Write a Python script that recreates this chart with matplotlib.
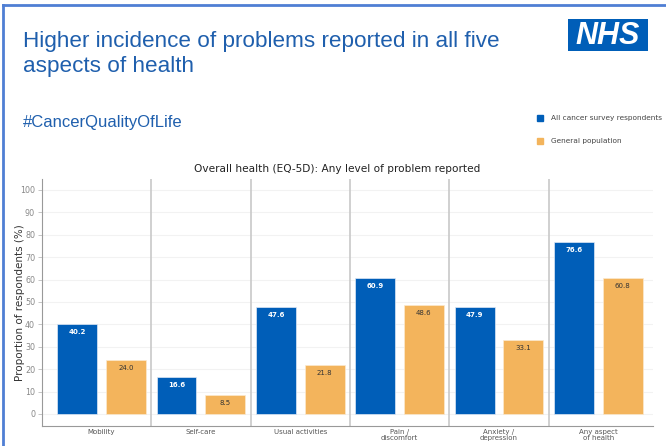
import matplotlib.pyplot as plt
import numpy as np

# data
categories = ["Mobility", "Self-care", "Usual activities", "Pain /\ndiscomfort",
              "Anxiety /\ndepression", "Any aspect\nof health"]
cancer = [40.2, 16.6, 47.6, 60.9, 47.9, 76.6]
general = [24.0, 8.5, 21.8, 48.6, 33.1, 60.8]
series_names = ["All cancer survey respondents", "General population"]

blue = "#005eb8"
orange = "#f3b45c"
title_blue = "#1f5fad"
grey = "#888888"

fig = plt.figure(figsize=(6.66, 4.46), dpi=100)

# slide frame (blue line top and left)
fig.add_artist(plt.Line2D([0.004, 1.0], [0.989, 0.989], color="#4f7fd4", lw=2))
fig.add_artist(plt.Line2D([0.004, 0.004], [0.0, 0.989], color="#4f7fd4", lw=2))

fig.text(0.034, 1 - 31 / 446, "Higher incidence of problems reported in all five\naspects of health",
         family="Liberation Sans", fontsize=16.2, color=title_blue, va="top", linespacing=1.22)
fig.text(0.034, 1 - 122 / 446, "#CancerQualityOfLife", family="Liberation Sans", fontsize=12,
         color=title_blue, va="center")

# NHS logo
logo = fig.add_axes([568 / 666, 1 - 51 / 446, 80 / 666, 32 / 446])
logo.set_facecolor(blue)
logo.set_xticks([])
logo.set_yticks([])
for s in logo.spines.values():
    s.set_visible(False)
logo.text(0.5, 0.47, "NHS", color="white", fontsize=22, fontweight="bold", style="italic",
          family="Liberation Sans", ha="center", va="center", transform=logo.transAxes)

# legend
fig.patches.append(plt.Rectangle((537 / 666, 1 - 121 / 446), 6 / 666, 6 / 446,
                                 color=blue, transform=fig.transFigure))
fig.patches.append(plt.Rectangle((537 / 666, 1 - 144 / 446), 6 / 666, 6 / 446,
                                 color=orange, transform=fig.transFigure))
fig.text(551 / 666, 1 - 118 / 446, series_names[0], fontsize=5.3, color="#444444", va="center")
fig.text(551 / 666, 1 - 141 / 446, series_names[1], fontsize=5.3, color="#444444", va="center")

ax = fig.add_axes([42 / 666, 1 - 426 / 446, 611 / 666, 247 / 446])
x = np.arange(len(categories))
w = 0.4
b1 = ax.bar(x - 0.245, cancer, w, color=blue, edgecolor="#dfe8f5", lw=0.5, zorder=3)
b2 = ax.bar(x + 0.245, general, w, color=orange, edgecolor="#fbe9cf", lw=0.5, zorder=3)

for rect, v in zip(b1, cancer):
    ax.text(rect.get_x() + rect.get_width() / 2, v - 3.6, f"{v:.1f}", ha="center",
            va="center", fontsize=5, color="white", fontweight="bold", zorder=4)
for rect, v in zip(b2, general):
    ax.text(rect.get_x() + rect.get_width() / 2, v - 3.6, f"{v:.1f}", ha="center",
            va="center", fontsize=5, color="#333333", zorder=4)

for sep in x[:-1] + 0.5:
    ax.axvline(sep, color="#c8c8c8", lw=1.2, zorder=2)

ax.set_xlim(-0.6, 5.55)
ax.set_ylim(-5.4, 104.9)
ax.set_yticks(range(0, 101, 10))
ax.set_xticks(x)
ax.set_xticklabels(categories, fontsize=5, color="#555555", linespacing=1.0)
ax.tick_params(axis="x", length=0, pad=2)
ax.tick_params(axis="y", labelsize=5.8, colors=grey, length=3, width=0.6, color="#bbbbbb", pad=2)
ax.grid(axis="y", color="#f2f2f2", lw=0.8, zorder=0)
for s in ["top", "right"]:
    ax.spines[s].set_visible(False)
for s in ["left", "bottom"]:
    ax.spines[s].set_color("#999999")
    ax.spines[s].set_linewidth(0.8)

ax.set_ylabel("Proportion of respondents (%)", fontsize=7.5, color="#333333")
ax.yaxis.set_label_coords(-0.028, 0.5)
fig.text(337 / 666, 1 - 169 / 446, "Overall health (EQ-5D): Any level of problem reported",
         fontsize=7.6, color="#222222", ha="center", va="center")

fig.savefig("out.png", dpi=100)
